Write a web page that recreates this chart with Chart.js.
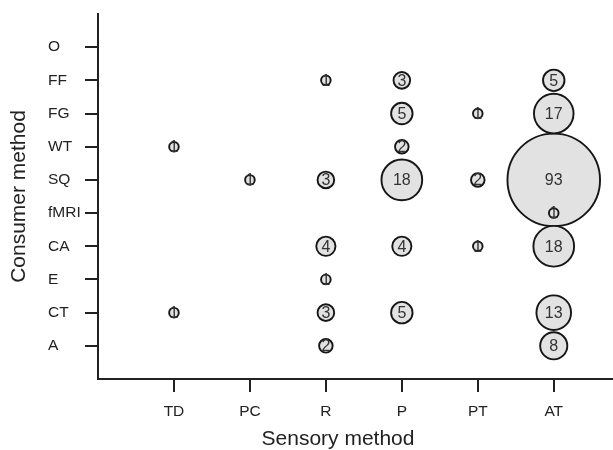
<!DOCTYPE html>
<html>
<head>
<meta charset="utf-8">
<script src="https://cdn.jsdelivr.net/npm/chart.js@4/dist/chart.umd.min.js"></script>
<style>
  html, body { margin: 0; padding: 0; background: #fff; }
  #wrap { width: 613px; height: 450px; position: relative; }
</style>
</head>
<body>
<div id="wrap"><canvas id="chart"></canvas></div>
<script>
// categories
const sensoryMethods = ['TD', 'PC', 'R', 'P', 'PT', 'AT'];
const consumerMethods = ['A', 'CT', 'E', 'CA', 'fMRI', 'SQ', 'WT', 'FG', 'FF', 'O'];

// number of studies, one row per consumer method (bottom to top),
// columns follow sensoryMethods; 0 = no bubble
const countsA    = [0, 0, 2, 0, 0, 8];
const countsCT   = [1, 0, 3, 5, 0, 13];
const countsE    = [0, 0, 1, 0, 0, 0];
const countsCA   = [0, 0, 4, 4, 1, 18];
const countsFMRI = [0, 0, 0, 0, 0, 1];
const countsSQ   = [0, 1, 3, 18, 2, 93];
const countsWT   = [1, 0, 0, 2, 0, 0];
const countsFG   = [0, 0, 0, 5, 1, 17];
const countsFF   = [0, 0, 1, 3, 0, 5];
const countsO    = [0, 0, 0, 0, 0, 0];

const rows = [countsA, countsCT, countsE, countsCA, countsFMRI, countsSQ, countsWT, countsFG, countsFF, countsO];

// bubble area proportional to count
const radiusPerSqrt = 4.8;

let points = [];
rows.forEach((row, yi) => {
    row.forEach((n, xi) => {
        if (n > 0) {
            points.push({ x: xi + 1, y: yi + 1, r: radiusPerSqrt * Math.sqrt(n), n: n });
        }
    });
});
// big ones first so the small ones stay visible on top
points.sort((a, b) => b.n - a.n);

const FONT = "'Liberation Sans', Arial, Helvetica, sans-serif";
const INK = '#222';

Chart.defaults.font.family = FONT;
Chart.defaults.color = INK;

const bubbleLabels = {
    id: 'bubbleLabels',
    afterDatasetsDraw(chart) {
        const { ctx } = chart;
        const meta = chart.getDatasetMeta(0);
        ctx.save();
        ctx.font = '16px ' + FONT;
        ctx.fillStyle = '#333';
        ctx.textAlign = 'center';
        ctx.textBaseline = 'middle';
        meta.data.forEach((el, i) => {
            const p = chart.data.datasets[0].data[i];
            ctx.fillText(String(p.n), el.x, el.y + 1);
        });
        ctx.restore();
    }
};

const axisLine = { display: true, color: INK, width: 2 };
const tickGrid = { display: true, drawOnChartArea: false, drawTicks: true, tickLength: 13, color: INK, lineWidth: 2 };

new Chart(document.getElementById('chart'), {
    type: 'bubble',
    data: {
        datasets: [{
            data: points,
            backgroundColor: '#e2e2e2',
            borderColor: '#161616',
            borderWidth: 1.9,
            hoverBorderWidth: 1.9
        }]
    },
    options: {
        responsive: true,
        maintainAspectRatio: false,
        animation: false,
        events: [],
        layout: {
            autoPadding: false,
            padding: { top: 14, right: 0, bottom: 0, left: 0 }
        },
        plugins: {
            legend: { display: false },
            tooltip: { enabled: false }
        },
        scales: {
            x: {
                type: 'linear',
                position: 'bottom',
                min: 0,
                max: 6.78,
                afterBuildTicks: s => {
                    s.ticks = sensoryMethods.map((_, i) => ({ value: i + 1 }));
                },
                afterFit: s => { s.height = 71; },
                ticks: {
                    padding: 10,
                    font: { size: 15.5 },
                    color: INK,
                    callback: v => sensoryMethods[v - 1]
                },
                grid: tickGrid,
                border: axisLine,
                title: {
                    display: true,
                    text: 'Sensory method      ',
                    font: { size: 21, lineHeight: 1 },
                    color: INK,
                    padding: { top: 0, bottom: 0 }
                }
            },
            y: {
                type: 'linear',
                position: 'left',
                weight: 0,
                min: 0,
                max: 11,
                afterBuildTicks: s => {
                    s.ticks = consumerMethods.map((_, i) => ({ value: i + 1 }));
                },
                afterFit: s => { s.width = 50; },
                ticks: {
                    crossAlign: 'far',
                    font: { size: 15.5 },
                    color: INK,
                    callback: v => consumerMethods[v - 1]
                },
                grid: tickGrid,
                border: axisLine
            },
            // holds only the y title, left of the tick labels
            yTitle: {
                type: 'linear',
                position: 'left',
                weight: 10,
                afterFit: s => { s.width = 48; },
                ticks: { display: false },
                grid: { display: false },
                border: { display: false },
                title: {
                    display: true,
                    text: 'Consumer method',
                    font: { size: 21, lineHeight: 1 },
                    color: INK,
                    padding: { top: 9, bottom: 0 }
                }
            }
        }
    },
    plugins: [bubbleLabels]
});
</script>
</body>
</html>
